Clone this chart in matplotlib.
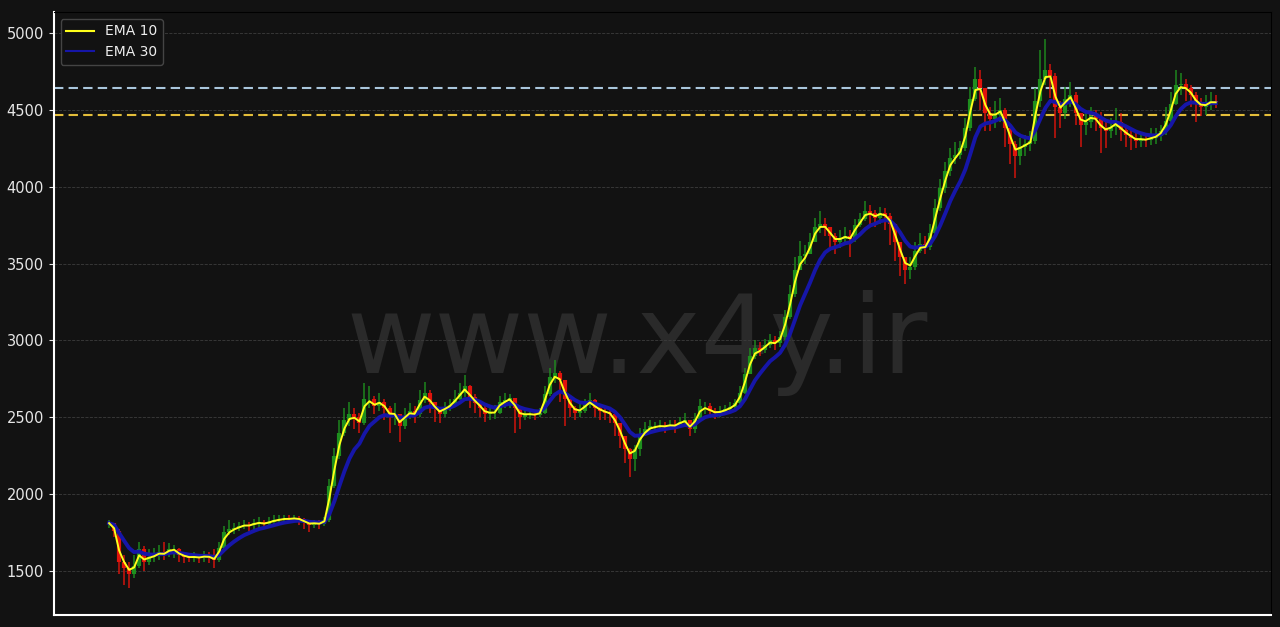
import numpy as np
import pandas as pd
import matplotlib
matplotlib.use('Agg')
import matplotlib.pyplot as plt

# closing prices, one candle per step
close = [1810, 1760, 1560, 1520, 1480, 1530, 1640, 1560, 1590, 1600,
         1620, 1610, 1640, 1640, 1600, 1590, 1585, 1590, 1585, 1595,
         1590, 1570, 1650, 1750, 1770, 1780, 1790, 1800, 1795, 1810,
         1815, 1805, 1820, 1830, 1835, 1840, 1838, 1842, 1835, 1815,
         1800, 1810, 1805, 1830, 2050, 2250, 2400, 2480, 2520, 2500,
         2460, 2620, 2620, 2570, 2600, 2560, 2500, 2520, 2440, 2510,
         2540, 2520, 2610, 2660, 2600, 2550, 2520, 2560, 2580, 2620,
         2660, 2700, 2630, 2590, 2560, 2520, 2525, 2530, 2600, 2610,
         2625, 2560, 2500, 2515, 2520, 2515, 2530, 2650, 2760, 2790,
         2740, 2620, 2560, 2530, 2540, 2580, 2610, 2560, 2540, 2530,
         2520, 2460, 2380, 2290, 2230, 2290, 2390, 2420, 2440, 2440,
         2445, 2440, 2450, 2445, 2470, 2480, 2420, 2490, 2570, 2570,
         2540, 2525, 2535, 2550, 2565, 2590, 2660, 2780, 2900, 2950,
         2940, 2970, 3000, 2980, 3020, 3150, 3300, 3460, 3550, 3560,
         3640, 3740, 3760, 3740, 3680, 3640, 3660, 3680, 3660, 3750,
         3790, 3840, 3830, 3800, 3830, 3810, 3760, 3640, 3540, 3460,
         3480, 3580, 3630, 3610, 3700, 3860, 3990, 4100, 4190, 4210,
         4250, 4380, 4570, 4700, 4640, 4480, 4440, 4470, 4500, 4380,
         4280, 4200, 4260, 4280, 4300, 4560, 4700, 4760, 4720, 4520,
         4480, 4570, 4600, 4480, 4400, 4420, 4460, 4440, 4380, 4360,
         4390, 4420, 4370, 4340, 4320, 4300, 4310, 4305, 4320, 4330,
         4360, 4430, 4540, 4660, 4670, 4640, 4600, 4540, 4520, 4530,
         4560, 4550]

high = [1830, 1810, 1770, 1600, 1560, 1600, 1690, 1660, 1640, 1650,
        1670, 1690, 1680, 1670, 1650, 1620, 1610, 1620, 1610, 1630,
        1620, 1640, 1690, 1790, 1830, 1810, 1820, 1830, 1820, 1840,
        1850, 1830, 1850, 1860, 1860, 1860, 1865, 1860, 1855, 1845,
        1830, 1830, 1830, 1850, 2100, 2300, 2480, 2560, 2600, 2560,
        2530, 2720, 2700, 2640, 2660, 2620, 2570, 2590, 2510, 2560,
        2590, 2570, 2680, 2730, 2680, 2600, 2560, 2600, 2620, 2680,
        2720, 2775, 2710, 2650, 2600, 2570, 2560, 2580, 2640, 2660,
        2650, 2620, 2540, 2550, 2550, 2540, 2560, 2700, 2820, 2870,
        2800, 2720, 2620, 2570, 2590, 2620, 2660, 2620, 2580, 2570,
        2560, 2520, 2450, 2380, 2300, 2320, 2430, 2470, 2480, 2470,
        2480, 2470, 2480, 2480, 2500, 2530, 2480, 2530, 2620, 2600,
        2590, 2560, 2570, 2580, 2600, 2620, 2700, 2820, 2950, 3000,
        2990, 3010, 3040, 3030, 3060, 3200, 3360, 3540, 3650, 3620,
        3700, 3800, 3840, 3800, 3740, 3700, 3720, 3740, 3720, 3790,
        3830, 3910, 3880, 3850, 3870, 3860, 3830, 3760, 3600, 3520,
        3540, 3640, 3700, 3680, 3760, 3920, 4050, 4160, 4250, 4290,
        4300, 4450, 4650, 4780, 4760, 4620, 4520, 4560, 4580, 4510,
        4380, 4300, 4320, 4340, 4360, 4640, 4890, 4960, 4800, 4740,
        4560, 4650, 4680, 4620, 4480, 4480, 4520, 4500, 4490, 4420,
        4450, 4510, 4480, 4400, 4380, 4360, 4350, 4350, 4380, 4380,
        4400, 4520, 4620, 4760, 4740, 4700, 4660, 4620, 4580, 4600,
        4620, 4600]

low = [1780, 1720, 1480, 1410, 1390, 1450, 1520, 1500, 1540, 1560,
       1570, 1570, 1590, 1580, 1560, 1550, 1560, 1560, 1550, 1560,
       1550, 1520, 1560, 1640, 1730, 1740, 1760, 1770, 1760, 1770,
       1780, 1770, 1790, 1800, 1810, 1815, 1810, 1815, 1800, 1770,
       1750, 1780, 1770, 1790, 1820, 2040, 2230, 2380, 2440, 2420,
       2400, 2450, 2560, 2520, 2540, 2480, 2400, 2450, 2340, 2420,
       2490, 2460, 2500, 2590, 2530, 2470, 2460, 2500, 2540, 2570,
       2610, 2630, 2560, 2530, 2500, 2470, 2480, 2490, 2520, 2560,
       2560, 2400, 2420, 2480, 2490, 2480, 2500, 2520, 2640, 2720,
       2600, 2440, 2500, 2480, 2500, 2530, 2560, 2500, 2480, 2480,
       2460, 2380, 2300, 2200, 2110, 2150, 2250, 2380, 2400, 2410,
       2410, 2400, 2420, 2400, 2430, 2440, 2380, 2400, 2480, 2520,
       2500, 2490, 2500, 2520, 2530, 2550, 2580, 2650, 2780, 2880,
       2900, 2920, 2950, 2940, 2960, 3000, 3140, 3280, 3460, 3500,
       3560, 3660, 3700, 3680, 3580, 3560, 3600, 3620, 3540, 3640,
       3740, 3780, 3760, 3740, 3760, 3720, 3620, 3520, 3420, 3370,
       3400, 3460, 3570, 3560, 3590, 3680, 3840, 3960, 4070, 4150,
       4180, 4230, 4360, 4560, 4500, 4360, 4360, 4380, 4420, 4260,
       4150, 4060, 4140, 4200, 4230, 4280, 4520, 4660, 4580, 4320,
       4380, 4440, 4520, 4400, 4260, 4340, 4380, 4360, 4220, 4250,
       4320, 4340, 4300, 4260, 4240, 4250, 4260, 4260, 4270, 4280,
       4300, 4340, 4420, 4530, 4600, 4560, 4520, 4420, 4460, 4470,
       4500, 4510]

resistance = 4640
support = 4470

c = np.array(close, dtype=float)
o = np.r_[c[0], c[:-1]]
h = np.maximum(np.array(high, dtype=float), np.maximum(o, c))
l = np.minimum(np.array(low, dtype=float), np.minimum(o, c))
x = np.arange(len(c))

# spans scaled to the coarser sampling of the candles
ema10 = pd.Series(c).ewm(span=2, adjust=False).mean()
ema30 = pd.Series(c).ewm(span=8, adjust=False).mean()

bg = '#121212'
fig = plt.figure(figsize=(12.8, 6.27), dpi=100, facecolor=bg)
ax = fig.add_axes([0.042, 0.019, 0.951, 0.962], facecolor=bg)

ax.text(0.479, 0.401, 'www.x4y.ir', transform=ax.transAxes, ha='center', va='baseline',
        fontsize=78, color='#2a2a2a', zorder=0)

cols = np.where(c >= o, '#1e8f1e', '#e0140c')
ax.vlines(x, l, h, colors=cols, lw=1.2, alpha=0.85, zorder=2)
ax.vlines(x, o, c, colors=cols, lw=3, zorder=2)

l30, = ax.plot(x, ema30, color='#1616a8', lw=2.8, label='EMA 30', zorder=3)
l10, = ax.plot(x, ema10, color='#ffff1a', lw=1.4, label='EMA 10', zorder=4)

ax.axhline(resistance, color='#a9c6dc', ls='--', lw=1.5, dashes=(4.5, 2.5), zorder=1)
ax.axhline(support, color='#e3bd3a', ls='--', lw=1.5, dashes=(4.5, 2.5), zorder=1)

ax.yaxis.grid(True, color='#3c3c3c', ls='--', lw=0.6)
ax.set_axisbelow(True)
ax.set_yticks(np.arange(1500, 5001, 500))
ax.set_xticks([])
ax.tick_params(axis='y', colors='#e6e6e6', labelsize=10.5)
for s in ['left', 'bottom']:
    ax.spines[s].set_color('white')
    ax.spines[s].set_linewidth(1.5)
for s in ['top', 'right']:
    ax.spines[s].set_color('black')

leg = ax.legend(handles=[l10, l30], loc='upper left', facecolor=bg, edgecolor='#444444',
                labelcolor='#eeeeee', fontsize=10, framealpha=1)
for line in leg.get_lines():
    line.set_linewidth(1.5)

fig.savefig('out.png', dpi=100, facecolor=bg)
